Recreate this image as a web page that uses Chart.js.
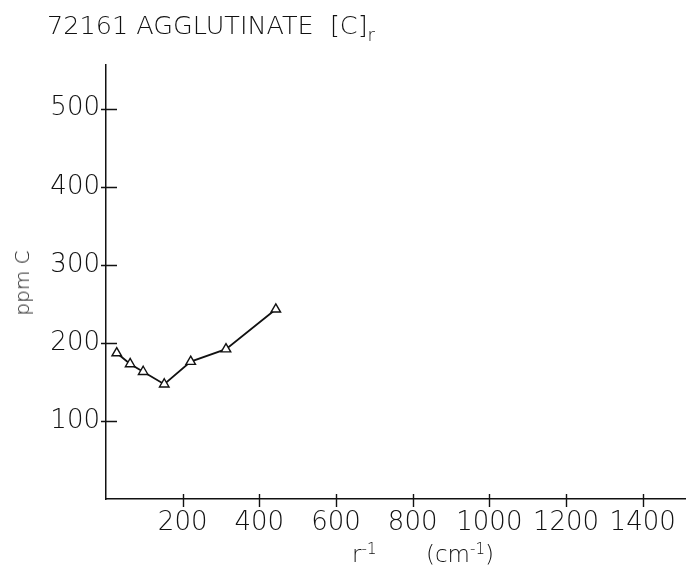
<!DOCTYPE html>
<html>
<head>
<meta charset="utf-8">
<script src="https://cdn.jsdelivr.net/npm/chart.js@4.4.1/dist/chart.umd.min.js"></script>
<style>
  html, body { margin: 0; padding: 0; background: #fff; }
  #wrap { position: relative; width: 686px; height: 565px; overflow: hidden; font-family: "DejaVu Sans", sans-serif; color: #111; }
  #chart { position: absolute; left: 0; top: 0; }
  .lbl { position: absolute; white-space: nowrap; font-weight: 200; line-height: 1; }
  #title { left: 47px; top: 13px; font-size: 25.5px; }
  #title sub { font-size: 18px; vertical-align: -7px; }
  .xt { top: 542px; font-size: 23px; }
  .xt sup { font-size: 15px; vertical-align: 8px; }
  #xtitle1 { left: 352px; }
  #xtitle2 { left: 426px; }
  #ytitle { left: 22px; top: 283px; font-size: 20px; transform: translate(-50%, -50%) rotate(-90deg); }
</style>
</head>
<body>
<div id="wrap">
  <canvas id="chart" width="686" height="565"></canvas>
  <div class="lbl" id="title">72161 AGGLUTINATE &nbsp;[C]<sub>r</sub></div>
  <div class="lbl xt" id="xtitle1">r<sup>-1</sup></div>
  <div class="lbl xt" id="xtitle2">(cm<sup>-1</sup>)</div>
  <div class="lbl" id="ytitle">ppm C</div>
</div>
<script>
// r^-1 (cm^-1) vs carbon content (ppm)
const rInv = [28, 63, 97, 152, 221, 313, 443];
const ppmC = [187, 173, 163, 147, 176, 192, 243];
const xTicks = [200, 400, 600, 800, 1000, 1200, 1400];
const yTicks = [100, 200, 300, 400, 500];

const INK = "#111";
const tickFont = { family: "DejaVu Sans", size: 26, weight: 200 };
const points = rInv.map((x, i) => ({ x, y: ppmC[i] }));

// short tick marks that cross the axis lines
const crossTicks = {
  id: "crossTicks",
  afterDraw(chart) {
    const { ctx, chartArea, scales } = chart;
    ctx.save();
    ctx.strokeStyle = INK;
    ctx.lineWidth = 1.4;
    ctx.beginPath();
    yTicks.forEach(v => {
      const y = Math.round(scales.y.getPixelForValue(v)) + 0.5;
      ctx.moveTo(chartArea.left - 5, y);
      ctx.lineTo(chartArea.left + 11, y);
    });
    xTicks.forEach(v => {
      const x = Math.round(scales.x.getPixelForValue(v)) + 0.5;
      ctx.moveTo(x, chartArea.bottom - 5);
      ctx.lineTo(x, chartArea.bottom + 8);
    });
    ctx.stroke();
    ctx.restore();
  }
};

new Chart(document.getElementById("chart"), {
  type: "scatter",
  data: {
    datasets: [
      {
        data: points,
        showLine: true,
        borderColor: INK,
        borderWidth: 1.8,
        pointStyle: "triangle",
        pointRadius: 5.5,
        pointBackgroundColor: "#fff",
        pointBorderColor: INK,
        pointBorderWidth: 1.4,
        tension: 0,
      },
      {
        // centre dot of each symbol
        data: points,
        showLine: false,
        pointRadius: 0.7,
        pointBackgroundColor: INK,
        pointBorderWidth: 0,
      },
    ],
  },
  options: {
    responsive: false,
    animation: false,
    layout: { autoPadding: false, padding: { top: 65, right: 0, left: 0, bottom: 0 } },
    plugins: { legend: { display: false }, tooltip: { enabled: false } },
    scales: {
      x: {
        type: "linear",
        min: 0,
        max: 1513,
        afterBuildTicks: s => { s.ticks = xTicks.map(value => ({ value })); },
        afterFit: s => { s.height = 66; s.paddingLeft = 0; s.paddingRight = 0; },
        grid: { display: false, drawTicks: false },
        border: { display: true, color: INK, width: 1.5 },
        ticks: { color: INK, font: tickFont, padding: 9, maxRotation: 0, autoSkip: false, callback: v => String(v) },
      },
      y: {
        type: "linear",
        min: 0,
        max: 556,
        afterBuildTicks: s => { s.ticks = yTicks.map(value => ({ value })); },
        afterFit: s => { s.width = 106; s.paddingTop = 0; s.paddingBottom = 0; },
        grid: { display: false, drawTicks: false },
        border: { display: true, color: INK, width: 1.5 },
        ticks: { color: INK, font: tickFont, padding: 6, autoSkip: false, callback: v => String(v) },
      },
    },
  },
  plugins: [crossTicks],
});
</script>
</body>
</html>
